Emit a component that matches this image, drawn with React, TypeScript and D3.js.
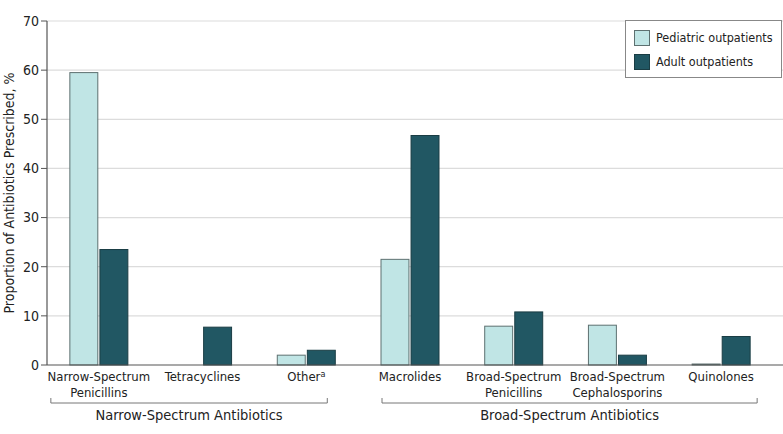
import React from "react";
import * as d3 from "d3";

const categories = [
  ["Narrow-Spectrum", "Penicillins"],
  ["Tetracyclines"],
  ["Other"],
  ["Macrolides"],
  ["Broad-Spectrum", "Penicillins"],
  ["Broad-Spectrum", "Cephalosporins"],
  ["Quinolones"],
];
const pediatric = [59.5, 0, 2.0, 21.5, 7.9, 8.1, 0.2];
const adult = [23.5, 7.7, 3.0, 46.7, 10.8, 2.0, 5.8];
const seriesNames = ["Pediatric outpatients", "Adult outpatients"];
const yTicks = [0, 10, 20, 30, 40, 50, 60, 70];
const groups = [
  { label: "Narrow-Spectrum Antibiotics", from: 0, to: 2 },
  { label: "Broad-Spectrum Antibiotics", from: 3, to: 6 },
];

const W = 783;
const H = 434;
const FONT = "'Liberation Sans Narrow', 'DejaVu Sans Condensed', 'Roboto Condensed', sans-serif";
const PED = "#c0e5e5";
const PED_STROKE = "#5d7070";
const ADU = "#215763";
const ADU_STROKE = "#1a3d44";

export default function App() {
  const x0 = 47;
  const x1 = 773;
  const y = d3.scaleLinear().domain([0, 70]).range([365, 21]);
  const xb = d3
    .scaleBand<number>()
    .domain(categories.map((_, i) => i))
    .range([x0, x1])
    .paddingInner(0)
    .paddingOuter(0);
  const inner = d3.scaleBand<number>().domain([0, 1]).range([0, 58]).paddingInner(0.07);
  const off = (xb.bandwidth() - 58) / 2;
  const center = (i: number) => (xb(i) as number) + xb.bandwidth() / 2;

  return (
    <svg width={W} height={H} style={{ position: "absolute", left: 0, top: 0 }} fontFamily={FONT}>
      <rect x={0} y={0} width={W} height={H} fill="#fff" />
      {yTicks.map((t) => (
        <g key={t}>
          {t > 0 && (
            <line x1={x0} x2={W} y1={y(t)} y2={y(t)} stroke="#dcdcdc" strokeWidth={1.2} />
          )}
          <line x1={x0 - 6} x2={x0} y1={y(t)} y2={y(t)} stroke="#555" strokeWidth={1} />
          <text x={x0 - 8} y={y(t)} dy="0.35em" textAnchor="end" fontSize={14} fill="#222">
            {t}
          </text>
        </g>
      ))}
      <text
        transform={`translate(14,${(y(0) + y(70)) / 2}) rotate(-90)`}
        textAnchor="middle"
        fontSize={14}
        fill="#222"
      >
        Proportion of Antibiotics Prescribed, %
      </text>

      {categories.map((c, i) => {
        const bx = (xb(i) as number) + off;
        const vals = [pediatric[i], adult[i]];
        return (
          <g key={i}>
            {vals.map((v, s) =>
              v > 0 ? (
                <rect
                  key={s}
                  x={bx + (inner(s) as number)}
                  y={y(v)}
                  width={inner.bandwidth()}
                  height={y(0) - y(v)}
                  fill={s === 0 ? PED : ADU}
                  stroke={s === 0 ? PED_STROKE : ADU_STROKE}
                  strokeWidth={1}
                />
              ) : null
            )}
          </g>
        );
      })}

      <line x1={x0} x2={x0} y1={y(70)} y2={y(0)} stroke="#555" strokeWidth={1.2} />
      <line x1={x0} x2={W} y1={y(0)} y2={y(0)} stroke="#555" strokeWidth={1.2} />

      {categories.map((c, i) => {
        const cx = center(i);
        return (
          <text key={i} x={cx} textAnchor="middle" fontSize={13} fill="#222">
            {c.map((line, k) => (
              <tspan key={k} x={cx} y={381 + k * 15.5}>
                {line}
                {line === "Other" && (
                  <tspan fontSize={9} dy={-4}>
                    a
                  </tspan>
                )}
              </tspan>
            ))}
          </text>
        );
      })}

      {groups.map((g, i) => {
        const left = g.from === 0 ? center(g.from) - 48 : center(g.from) - 28;
        const right = g.to === 2 ? center(g.to) + 21 : center(g.to) + 36;
        return (
          <g key={i}>
            <path
              d={`M${left},398 V403 H${right} V398`}
              fill="none"
              stroke="#777"
              strokeWidth={1}
            />
            <text x={(left + right) / 2} y={420} textAnchor="middle" fontSize={14.5} fill="#222">
              {g.label}
            </text>
          </g>
        );
      })}

      <g>
        <rect x={625.5} y={20.5} width={156} height={57} fill="#fff" stroke="#888" strokeWidth={1} />
        {seriesNames.map((n, i) => (
          <g key={n}>
            <rect
              x={634.5}
              y={30.5 + i * 24}
              width={15}
              height={15}
              fill={i === 0 ? PED : ADU}
              stroke={i === 0 ? PED_STROKE : ADU_STROKE}
            />
            <text x={656} y={38 + i * 24} dy="0.35em" fontSize={12.5} fill="#222">
              {n}
            </text>
          </g>
        ))}
      </g>
    </svg>
  );
}
